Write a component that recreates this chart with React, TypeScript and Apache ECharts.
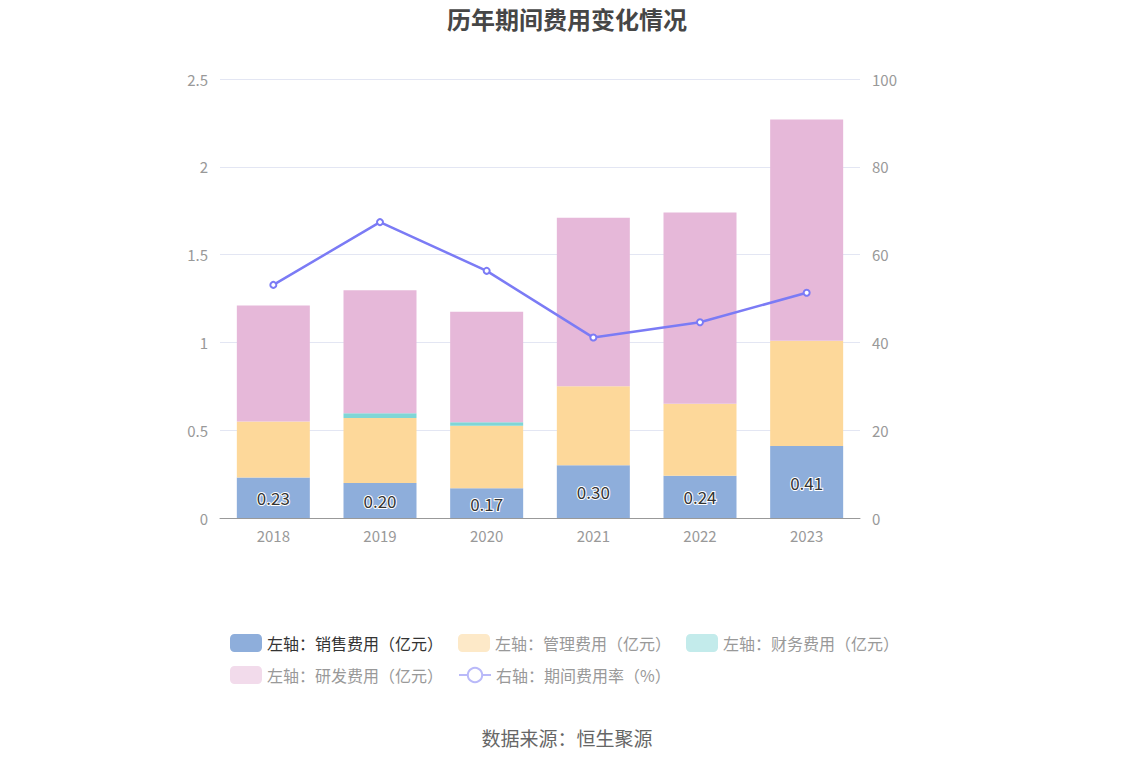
import React, { useEffect, useRef } from "react";
import * as echarts from "echarts";

const years = ["2018", "2019", "2020", "2021", "2022", "2023"];
const sales = [0.23, 0.2, 0.17, 0.3, 0.24, 0.41];
const admin = [0.32, 0.37, 0.355, 0.45, 0.41, 0.6];
const finance = [0.0, 0.027, 0.02, 0.0, 0.0, 0.0];
const rnd = [0.66, 0.7, 0.63, 0.96, 1.09, 1.26];
const rate = [53.1, 67.4, 56.3, 41.1, 44.6, 51.3];

const names = [
  "左轴：销售费用（亿元）",
  "左轴：管理费用（亿元）",
  "左轴：财务费用（亿元）",
  "左轴：研发费用（亿元）",
  "右轴：期间费用率（%）",
];
const colors = ["#8eaedb", "#fdd89a", "#7fd6d6", "#e6b8d9", "#7b7bf5"];
const fadedColors = ["#8eaedb", "#fde9c8", "#c3ebeb", "#f2dbeb", "#b9b9f9"];

export default function App() {
  const ref = useRef<HTMLDivElement>(null);
  useEffect(() => {
    const chart = echarts.init(ref.current!, undefined, { renderer: "svg" });
    const barSeries = [sales, admin, finance, rnd].map((d, i) => ({
      name: names[i],
      type: "bar",
      stack: "total",
      barWidth: 73,
      data: d,
      itemStyle: { color: colors[i] },
      label:
        i === 0
          ? {
              show: true,
              position: "inside",
              formatter: (p: any) => Number(p.value).toFixed(2),
              color: "#333",
              fontSize: 17,
              textBorderColor: "#fff",
              textBorderWidth: 2,
              fontFamily: "Noto Sans CJK SC",
            }
          : { show: false },
    }));
    chart.setOption({
      animation: false,
      textStyle: { fontFamily: "Noto Sans CJK SC" },
      title: {
        text: "历年期间费用变化情况",
        left: "center",
        top: 5,
        padding: 0,
        textStyle: { fontSize: 24, lineHeight: 26, fontWeight: "bold", color: "#464646" },
      },
      graphic: [
        {
          type: "text",
          left: "center",
          top: 728,
          style: { text: "数据来源：恒生聚源", fontSize: 19, fill: "#666", fontFamily: "Noto Sans CJK SC" },
        },
      ],
      legend: {
        left: 230,
        top: 632,
        width: 700,
        padding: 0,
        itemWidth: 32,
        itemHeight: 18,
        itemGap: 10,
        itemTextGap: 8,
        textStyle: { fontSize: 16, color: "#999", lineHeight: 22, padding: [0, 5, 0, 0] },
        data: names.map((n, i) => ({
          name: n,
          itemStyle: { color: fadedColors[i], borderColor: fadedColors[i] },
          lineStyle: { color: fadedColors[i] },
          textStyle: { color: i === 0 ? "#333" : "#999" },
        })),
      },
      grid: { left: 220, right: 274, top: 79, bottom: 248 },
      xAxis: {
        type: "category",
        data: years,
        axisLine: { lineStyle: { color: "#999" } },
        axisTick: { alignWithLabel: true, lineStyle: { color: "#999" } },
        axisLabel: { color: "#999", fontSize: 15, margin: 10 },
      },
      yAxis: [
        {
          type: "value",
          min: 0,
          max: 2.5,
          interval: 0.5,
          axisLabel: { color: "#999", fontSize: 15, margin: 12 },
          splitLine: { lineStyle: { color: "#e3e6f3" } },
          axisLine: { show: false },
        },
        {
          type: "value",
          min: 0,
          max: 100,
          interval: 20,
          axisLabel: { color: "#999", fontSize: 15, margin: 12 },
          splitLine: { show: false },
          axisLine: { show: false },
        },
      ],
      series: [
        ...barSeries,
        {
          name: names[4],
          type: "line",
          yAxisIndex: 1,
          data: rate,
          symbol: "emptyCircle",
          symbolSize: 6,
          lineStyle: { color: colors[4], width: 2.5 },
          itemStyle: { color: colors[4], borderWidth: 2 },
        },
      ],
    });
    return () => chart.dispose();
  }, []);
  return (
    <div
      ref={ref}
      style={{ position: "absolute", left: 0, top: 0, width: 1134, height: 766, background: "#fff" }}
    />
  );
}
